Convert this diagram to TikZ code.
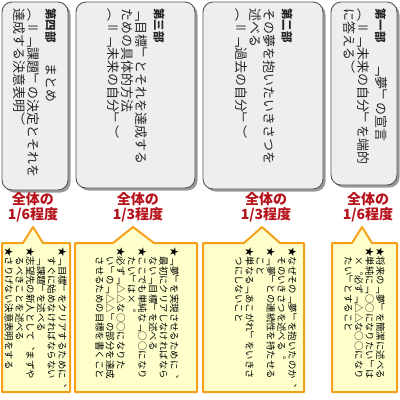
\documentclass[tikz,border=0pt]{standalone}
\usepackage{fontspec}
\newfontfamily\tate[Vertical=RotatedGlyphs]{Noto Sans CJK JP}
\newfontfamily\yoko{Noto Sans CJK JP}
\definecolor{partfill}{HTML}{EEEEEE}
\definecolor{partline}{HTML}{555555}
\definecolor{partshadow}{HTML}{999999}
\definecolor{ratiored}{HTML}{B5121B}
\definecolor{notefill}{HTML}{FFFFCC}
\definecolor{noteline}{HTML}{F5A01A}
\newcommand{\parthead}[1]{{\bfseries\fontsize{11.5}{14}\selectfont #1}}

\begin{document}
\begin{tikzpicture}[x=1pt, y=-1pt,
  partbox/.style={draw=partline, fill=partfill, rounded corners=10pt, line width=0.9pt},
  partshade/.style={fill=partshadow, rounded corners=10pt},
  parttext/.style={rotate=-90, anchor=west, inner sep=0pt, align=left,
    font=\tate\fontsize{13}{14.2}\selectfont, text=black!85},
  ratio/.style={align=center, inner sep=0pt,
    font=\yoko\bfseries\fontsize{14}{15}\selectfont, text=ratiored},
  notebox/.style={draw=noteline, fill=notefill, line width=2pt, line join=round},
  notetext/.style={rotate=-90, anchor=north west, inner sep=0pt, align=left,
    font=\tate\fontsize{9.4}{10.7}\selectfont}]

\useasboundingbox (0,0) rectangle (400,400);

% the four parts
\fill [partshade] (4.5,4.5) rectangle (70.5,192.5) ;
\draw [partbox] (2,2) rectangle (68,190) ;
\fill [partshade] (78.5,4.5) rectangle (197.5,190.5) ;
\draw [partbox] (76,2) rectangle (195,188) ;
\fill [partshade] (205.5,4.5) rectangle (325.5,191.5) ;
\draw [partbox] (203,2) rectangle (323,189) ;
\fill [partshade] (333.5,4.5) rectangle (399.5,187.5) ;
\draw [partbox] (331,2) rectangle (397,185) ;

\node [parttext] (part4) at (35,8) {\parthead{第四部}\hspace{1.6em}まとめ\\[3.5pt]
  ︵＝﹁課題﹂の決定とそれを\\
  達成する決意表明︶};
\node [parttext] (part3) at (136,8) {\parthead{第三部}\\[3.5pt]
  ﹁目標﹂とそれを達成する\\
  ための具体的方法\\
  ︵＝﹁未来の自分﹂︶};
\node [parttext] (part2) at (264,8) {\parthead{第二部}\\[3.5pt]
  その夢を抱いたいきさつを\\
  述べる\\
  ︵＝﹁過去の自分﹂︶};
\node [parttext] (part1) at (365,8) {\parthead{第一部}\hspace{1.6em}﹁夢﹂の宣言\\[3.5pt]
  ︵＝﹁未来の自分﹂を端的\\
  に答える︶};

% share of the whole
\node [ratio] (ratio4) at (33,207) {全体の\\1/6程度};
\node [ratio] (ratio3) at (138,207) {全体の\\1/3程度};
\node [ratio] (ratio2) at (266,207) {全体の\\1/3程度};
\node [ratio] (ratio1) at (368,207) {全体の\\1/6程度};

% notes
\draw [notebox] (2,243) -- (23,243) -- (33,227) -- (43,243) -- (70,243)
  -- (70,392) -- (2,392) -- cycle ;
\draw [notebox] (75,243) -- (113,243) -- (133,227) -- (154,243) -- (197,243)
  -- (197,392) -- (75,392) -- cycle ;
\draw [notebox] (203,243) -- (244,243) -- (262,227) -- (280,243) -- (304,243)
  -- (304,392) -- (203,392) -- cycle ;
\draw [notebox] (332,243) -- (352,243) -- (362,227) -- (372,243) -- (397,243)
  -- (397,392) -- (332,392) -- cycle ;

\node [notetext] (note4) at (67,247) {★﹁目標﹂をクリアするために︑\\
  　すぐに始めなければならない\\
  　﹁課題﹂を述べる\\
  ★志望先の新人として︑まずや\\
  　るべきことを述べる\\
  ★さりげない決意表明をする};
\node [notetext] (note3) at (179,247) {★﹁夢﹂を実現させるために︑\\
  　最初にクリアしなければなら\\
  　ない﹁目標﹂を述べる\\
  ★ここでも単純な﹁○○になり\\
  　たい﹂は×︒\\
  ★必ず﹁△△な○○になりた\\
  　い﹂の﹁△△﹂の部分を達成\\
  　させるための目標を書くこと};
\node [notetext] (note2) at (297,247) {★なぜその﹁夢﹂を抱いたのか︑\\
  　そのいきさつを述べる︒\\
  ★﹁夢﹂との連続性を持たせる\\
  　こと\\
  ★単なる﹁あこがれ﹂をいきさ\\
  　つにしないこと};
\node [notetext] (note1) at (385,247) {★将来の﹁夢﹂を簡潔に述べる\\
  ★単純に﹁○○になりたい﹂は\\
  　×︒必ず﹁△△な○○になり\\
  　たい﹂とすること};

\end{tikzpicture}
\end{document}
